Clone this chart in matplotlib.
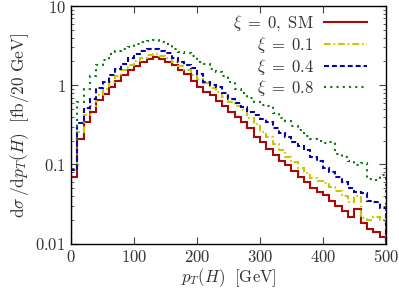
import matplotlib
matplotlib.use('Agg')
import matplotlib.pyplot as plt
import numpy as np

plt.rcParams['mathtext.fontset'] = 'cm'
plt.rcParams['font.family'] = 'serif'
plt.rcParams['font.serif'] = ['DejaVu Serif']

# p_T(H) bins, 10 GeV wide, 0..500
edges = np.arange(0, 510, 10)

sm = [0.07, 0.21, 0.34, 0.46, 0.645, 0.77, 0.96, 1.13, 1.33, 1.56,
      1.76, 1.98, 2.14, 2.25, 2.12, 1.98, 1.78, 1.56, 1.37, 1.12,
      0.96, 0.83, 0.75, 0.63, 0.55, 0.46, 0.4, 0.34, 0.29, 0.225,
      0.19, 0.155, 0.13, 0.112, 0.097, 0.083, 0.07, 0.06, 0.051, 0.045,
      0.041, 0.035, 0.03, 0.026, 0.022, 0.027, 0.018, 0.0155, 0.014, 0.012]
xi01 = [0.085, 0.26, 0.42, 0.55, 0.76, 0.9, 1.1, 1.3, 1.55, 1.8,
        2.0, 2.2, 2.4, 2.45, 2.35, 2.2, 1.98, 1.75, 1.55, 1.35,
        1.2, 1.08, 0.91, 0.83, 0.72, 0.62, 0.55, 0.48, 0.39, 0.32,
        0.26, 0.22, 0.18, 0.15, 0.125, 0.108, 0.09, 0.078, 0.068, 0.062,
        0.058, 0.052, 0.046, 0.04, 0.034, 0.04, 0.021, 0.02, 0.022, 0.02]
xi04 = [0.085, 0.33, 0.51, 0.68, 0.93, 1.1, 1.35, 1.6, 1.85, 2.2,
        2.45, 2.68, 2.84, 2.88, 2.68, 2.53, 2.2, 1.98, 1.8, 1.63,
        1.4, 1.1, 1.02, 0.94, 0.8, 0.68, 0.6, 0.53, 0.46, 0.42,
        0.38, 0.34, 0.29, 0.25, 0.22, 0.19, 0.172, 0.15, 0.125, 0.11,
        0.09, 0.08, 0.07, 0.06, 0.05, 0.045, 0.043, 0.035, 0.034, 0.028]
xi08 = [0.21, 0.62, 0.9, 1.3, 1.8, 2.1, 2.45, 2.7, 2.85, 3.05,
        3.3, 3.5, 3.65, 3.7, 3.5, 3.3, 2.9, 2.65, 2.55, 2.35,
        1.95, 1.85, 1.6, 1.45, 1.3, 1.1, 0.9, 0.8, 0.7, 0.62,
        0.57, 0.55, 0.44, 0.39, 0.35, 0.31, 0.27, 0.23, 0.21, 0.195,
        0.185, 0.19, 0.135, 0.125, 0.11, 0.098, 0.105, 0.065, 0.063, 0.073]

labels = [r'$\xi\;=\;0,\ \mathrm{SM}$', r'$\xi\;=\;0.1$', r'$\xi\;=\;0.4$', r'$\xi\;=\;0.8$']

fig = plt.figure(figsize=(3.99, 2.89), dpi=100)
ax = fig.add_axes([0.178, 0.157, 0.789, 0.822])

ax.stairs(sm, edges, baseline=1e-4, color='#a80a0a', lw=1.5, ls='-', label=labels[0])
ax.stairs(xi01, edges, baseline=1e-4, color='#c8c800', lw=1.5, ls=(0, (3.2, 1.4, 0.8, 1.4)), label=labels[1])
ax.stairs(xi04, edges, baseline=1e-4, color='#0808a0', lw=1.5, ls=(0, (2.4, 1.4)), label=labels[2])
ax.stairs(xi08, edges, baseline=1e-4, color='#0a7a0a', lw=1.5, ls=(0, (1.0, 2.0)), label=labels[3])

ax.set_yscale('log')
ax.set_xlim(0, 500)
ax.set_ylim(0.01, 10)
ax.set_xticks([0, 100, 200, 300, 400, 500])
ax.set_xticklabels([r'$\mathrm{%d}$' % v for v in [0, 100, 200, 300, 400, 500]])
ax.set_yticks([0.01, 0.1, 1, 10])
ax.set_yticklabels([r'$\mathrm{0.01}$', r'$\mathrm{0.1}$', r'$\mathrm{1}$', r'$\mathrm{10}$'])
ax.tick_params(which='both', direction='in', top=True, right=True, labelsize=12, colors='#444444', labelcolor='#333333')
ax.tick_params(which='major', length=5, width=0.8, pad=4)
ax.tick_params(which='minor', length=2.5, width=0.6)
ax.tick_params(axis='x', which='minor', bottom=False, top=False)
for s in ax.spines.values():
    s.set_linewidth(1.0)

ax.set_xlabel(r'$p_T(H)\ \ [\mathrm{GeV}]$', fontsize=12, color='#333333', labelpad=0)
ax.set_ylabel(r'$\mathrm{d}\sigma\,/\mathrm{d}p_T(H)\ \ [\mathrm{fb}/20\ \mathrm{GeV}]$', fontsize=12.5, color='#333333', labelpad=3)

leg = ax.legend(loc='upper right', bbox_to_anchor=(0.94, 0.97), frameon=False, markerfirst=False,
                fontsize=12, handlelength=2.6, handletextpad=0.6, labelspacing=0.1,
                borderaxespad=0.0, borderpad=0.0)
for t in leg.get_texts():
    t.set_color('#333333')

fig.savefig('out.png', dpi=100)
